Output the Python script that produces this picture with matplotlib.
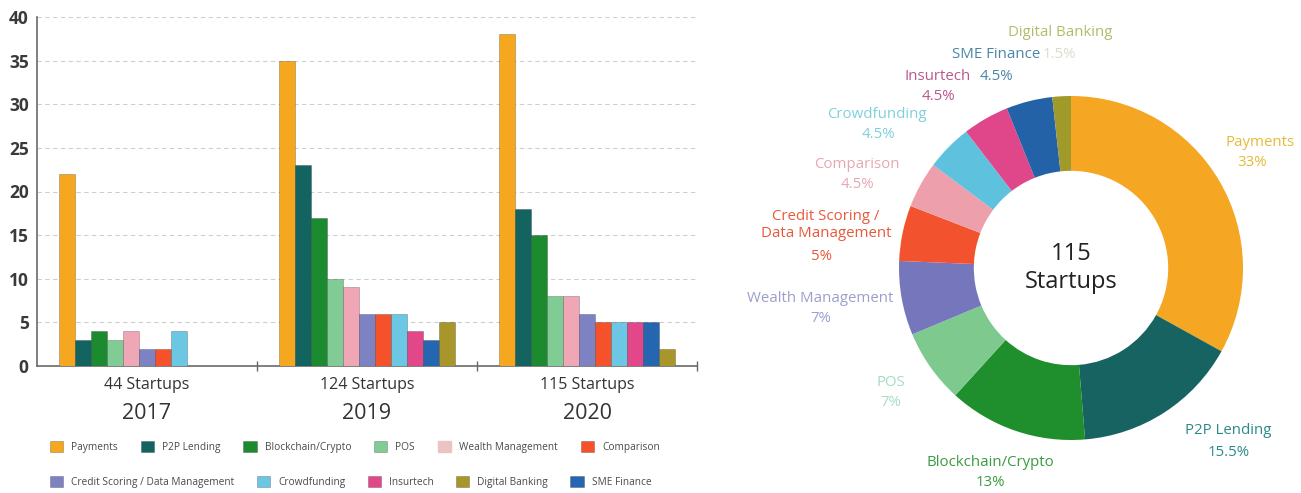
import numpy as np
import matplotlib.pyplot as plt
from matplotlib.patches import Patch
from matplotlib.transforms import blended_transform_factory

plt.rcParams['font.family'] = ['Open Sans', 'DejaVu Sans']

# data
years = ['2017', '2019', '2020']
group_labels = ['44 Startups', '124 Startups', '115 Startups']
categories = ['Payments', 'P2P Lending', 'Blockchain/Crypto', 'POS', 'Wealth Management',
              'Credit Scoring / Data Management', 'Comparison', 'Crowdfunding', 'Insurtech',
              'SME Finance', 'Digital Banking']
counts_2017 = [22, 3, 4, 3, 4, 2, 2, 4, 0, 0, 0]
counts_2019 = [35, 23, 17, 10, 9, 6, 6, 6, 4, 3, 5]
counts_2020 = [38, 18, 15, 8, 8, 6, 5, 5, 5, 5, 2]

legend_row1 = ['Payments', 'P2P Lending', 'Blockchain/Crypto', 'POS', 'Wealth Management', 'Comparison']
legend_row2 = ['Credit Scoring / Data Management', 'Crowdfunding', 'Insurtech', 'Digital Banking', 'SME Finance']

donut_names = ['Payments', 'P2P Lending', 'Blockchain/Crypto', 'POS', 'Wealth Management',
               'Credit Scoring /\nData Management', 'Comparison', 'Crowdfunding', 'Insurtech',
               'SME Finance', 'Digital Banking']
donut_counts = counts_2020
donut_pct = ['33%', '15.5%', '13%', '7%', '7%', '5%', '4.5%', '4.5%', '4.5%', '4.5%', '1.5%']
donut_total = '115\nStartups'

bar_colors = ['#F5A81F', '#136360', '#1C8B30', '#80CC94', '#EFA7B6', '#7D83C2',
              '#F5522B', '#6CC7E4', '#E2478A', '#2467B0', '#A8962A']
donut_colors = ['#F5A623', '#176361', '#1F8E2C', '#7DC98E', '#7676BC', '#F2532E',
                '#EDA0AC', '#5EC2DF', '#E0468A', '#2462A8', '#A09A2A']
label_colors = ['#E5BA3A', '#2A8A8A', '#3A9A40', '#A6DDC0', '#9C9FCB', '#E8583A',
                '#E5A8B4', '#7FD0DB', '#B8588E', '#4A86A8', '#B5BA6A']
pct_colors = label_colors[:-1] + ['#DADDCB']

# label placement in pixels (name centre, percent centre)
name_px = [(1260, 142), (1228, 431), (990, 462), (891, 383), (820, 298), (826, 225),
           (857, 164), (877, 114), (938, 76), (996, 54), (1060, 32)]
pct_px = [(1252, 163), (1229, 452), (990, 482), (891, 402), (821, 318), (822, 257),
          (857, 184), (878, 134), (938, 96), (996, 76), (1059, 54)]

W, H = 1301, 493
fig = plt.figure(figsize=(W / 100, H / 100), dpi=100)

# ---- grouped bars ----
ax = fig.add_axes([37 / W, (H - 366) / H, 660 / W, 349 / H])
x = np.arange(len(years))
w = 16 / 220
handles = {}
for j, cat in enumerate(categories):
    vals = [counts_2017[j], counts_2019[j], counts_2020[j]]
    handles[cat] = ax.bar(x + (j - 5) * w, vals, w, color=bar_colors[j],
                          edgecolor='#00000040', linewidth=0.6, label=cat, zorder=3)

ax.set_xlim(-0.5, 2.5)
ax.set_ylim(0, 40)
ax.set_yticks(np.arange(0, 41, 5))
ax.yaxis.grid(True, color='#cfcfcf', linestyle=(0, (4, 3)), linewidth=0.8, zorder=0)
ax.tick_params(axis='y', length=0, labelsize=12.5, labelcolor='#3a3a3a', pad=6)
for t in ax.get_yticklabels():
    t.set_fontweight('bold')
ax.set_xticks(x)
ax.set_xticklabels(group_labels, fontsize=11.5, color='#333333')
ax.tick_params(axis='x', which='major', length=0, pad=8)
ax.set_xticks([0.5, 1.5, 2.5], minor=True)
ax.tick_params(axis='x', which='minor', direction='inout', length=7, color='#666666', width=1)
for s in ['top', 'right']:
    ax.spines[s].set_visible(False)
for s in ['left', 'bottom']:
    ax.spines[s].set_color('#6a6a6a')
    ax.spines[s].set_linewidth(1.2)

trans = blended_transform_factory(ax.transData, ax.transAxes)
for i, yr in enumerate(years):
    ax.text(x[i], -0.135, yr, transform=trans, ha='center', va='center',
            fontsize=15.5, color='#333333')

# legend, two rows
leg_kw = dict(loc='center left', frameon=False, fontsize=7.3, handlelength=1.3,
              handleheight=1.3, handletextpad=0.8, borderpad=0, borderaxespad=0,
              labelcolor='#4a4a4a')
h1 = [handles[c] if c != 'Wealth Management' else Patch(color='#EBC3C3') for c in legend_row1]
fig.legend(h1, legend_row1, ncol=6, bbox_to_anchor=(50 / W, 1 - 447 / H),
           columnspacing=2.25, **leg_kw)
h2 = [handles[c] for c in legend_row2]
fig.legend(h2, legend_row2, ncol=5, bbox_to_anchor=(50 / W, 1 - 482 / H),
           columnspacing=2.2, **leg_kw)

# ---- donut ----
cx, cy, R = 1071, 268, 172
ax2 = fig.add_axes([(cx - R) / W, (H - cy - R) / H, 2 * R / W, 2 * R / H])
ax2.pie(donut_counts, colors=donut_colors, startangle=90, counterclock=False,
        radius=1, wedgeprops=dict(width=0.435, linewidth=0))
ax2.set_xlim(-1, 1)
ax2.set_ylim(-1, 1)
ax2.text(0, 0, donut_total, ha='center', va='center', fontsize=17,
         color='#222222', linespacing=1.2)

for i, name in enumerate(donut_names):
    nx, ny = name_px[i]
    px, py = pct_px[i]
    fig.text(nx / W, 1 - ny / H, name, ha='center', va='center', fontsize=10.8,
             color=label_colors[i], linespacing=1.2)
    fig.text(px / W, 1 - py / H, donut_pct[i], ha='center', va='center', fontsize=10.8,
             color=pct_colors[i])

fig.savefig('out.png', dpi=100)
